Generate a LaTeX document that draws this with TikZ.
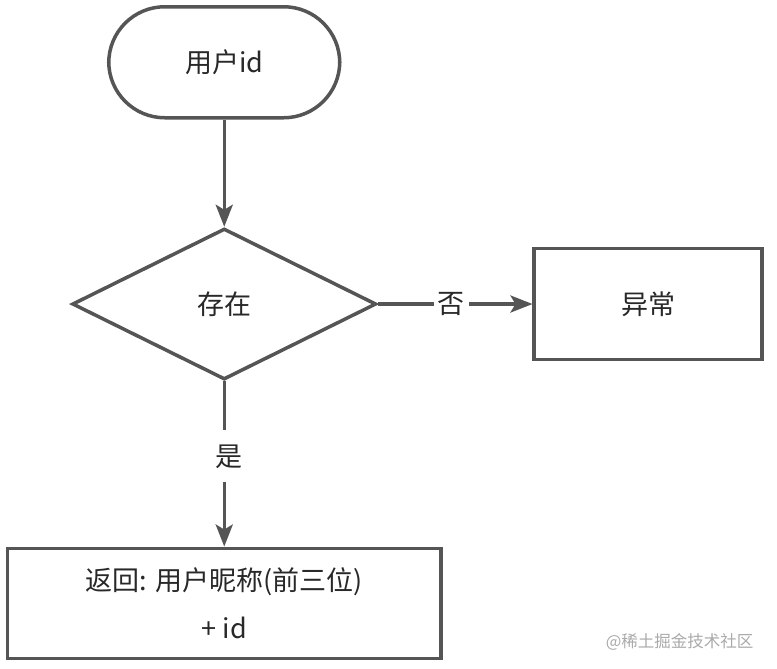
\documentclass[tikz,border=0pt]{standalone}
\usepackage{fontspec}
\setmainfont{Noto Sans CJK SC}
\usetikzlibrary{arrows.meta,shapes.geometric,matrix}
\definecolor{edgegray}{RGB}{85,85,85}
\definecolor{textgray}{RGB}{40,40,40}
\definecolor{markgray}{RGB}{170,170,170}

\begin{document}
\begin{tikzpicture}[x=1pt,y=-1pt,>={Stealth[length=22pt,width=17pt,inset=5pt]}]
\tikzstyle{shapebase} = [draw=edgegray, line width=3.5pt, text=textgray,
inner sep=4pt, outer sep=1.75pt, font=\fontsize{27}{32}\selectfont]
\tikzstyle{terminal} = [shapebase, rectangle, rounded corners=56pt,
minimum width=231pt, minimum height=111pt]
\tikzstyle{decision} = [shapebase, diamond, aspect=2,
minimum width=304pt, minimum height=151pt]
\tikzstyle{block} = [shapebase, rectangle, minimum width=228pt, minimum height=111pt]
\tikzstyle{block_wide} = [shapebase, rectangle, align=center,
minimum width=433pt, minimum height=110pt, font=\fontsize{27}{48}\selectfont]
\tikzstyle{line} = [draw=edgegray, line width=3.5pt, ->]
\tikzstyle{edgelabel} = [fill=white, inner sep=4pt, text=textgray,
font=\fontsize{27}{32}\selectfont]
\tikzstyle{watermark} = [text=markgray, font=\fontsize{16.5}{20}\selectfont]

\useasboundingbox[fill=white] (0,0) rectangle (777,669);

\matrix [matrix anchor=north west, column sep=90pt, row sep=108pt,
inner sep=0pt, outer sep=0pt] at (6,5)
{
% row 1
\node [terminal] (userid) {用户id}; & \\
% row 2
\node [decision] (exist) {存在}; & \node [block] (error) {异常}; \\[58pt]
% row 3
\node [block_wide] (result) {返回: 用户昵称(前三位)\\+ id}; & \\
};

\path[line] (userid) -- (exist);
\path[line] (exist) -- node[edgelabel, pos=0.475] {否} (error);
\path[line] (exist) -- node[edgelabel, pos=0.455, xshift=5pt,
  minimum height=52pt] {是} (result);

\node[watermark, anchor=east] (mark) at (757,642) {@稀土掘金技术社区};
\end{tikzpicture}
\end{document}
